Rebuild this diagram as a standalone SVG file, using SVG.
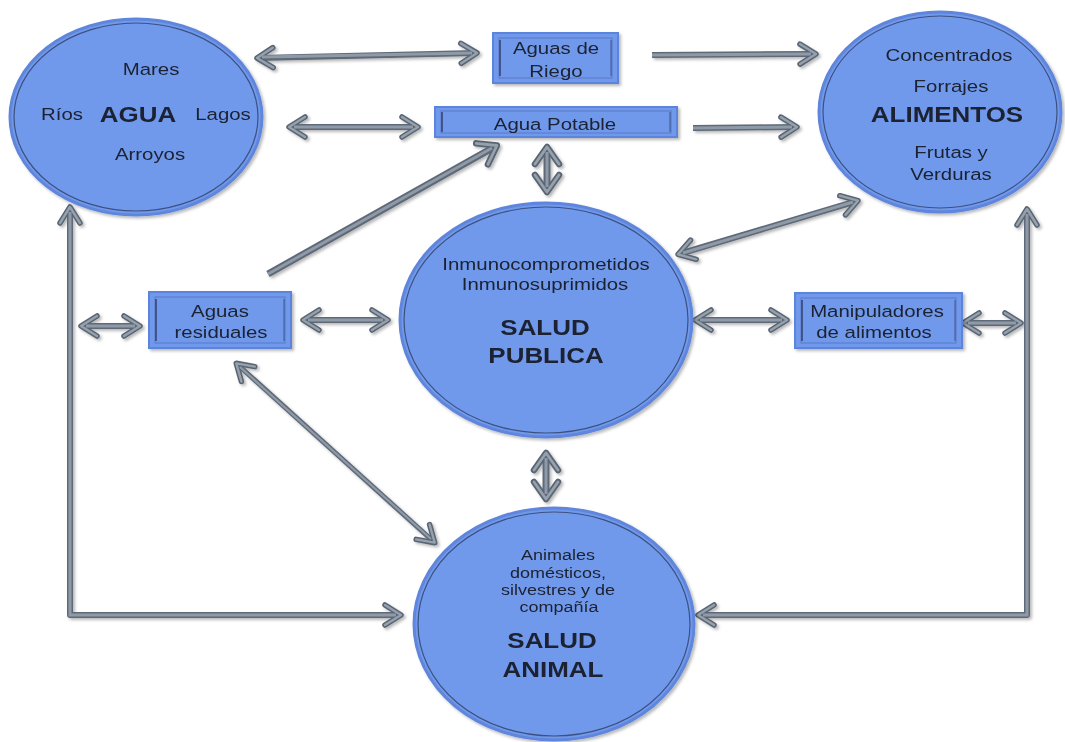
<svg xmlns="http://www.w3.org/2000/svg" width="1065" height="742" viewBox="0 0 1065 742">
<style>
.ell{fill:#7199eb;stroke:#5f86dc;stroke-width:3}
.ellin{fill:none;stroke:#33446e;stroke-width:1.2;opacity:.85}
.box{fill:#7199eb;stroke:#5c84dc;stroke-width:2}
.boxin{fill:none;stroke:#4a66b0;stroke-width:1;opacity:.6}
.bev{stroke:#2f416e;stroke-width:1.5}
.t{font-family:"Liberation Sans",Arial,sans-serif;font-size:17px;fill:#1b2130;text-anchor:middle}
.s{font-size:15px}
.b{font-family:"Liberation Sans",Arial,sans-serif;font-size:22px;font-weight:bold;fill:#1b2130;text-anchor:middle}
.c{fill:none;stroke:#5e6977;stroke-width:6;stroke-linejoin:round}
.ci{fill:none;stroke:#8f9aa8;stroke-width:3}
</style>
<defs>
<marker id="ah" viewBox="-20 -14 24 28" refX="0" refY="0" markerWidth="24" markerHeight="28" markerUnits="userSpaceOnUse" orient="auto-start-reverse" overflow="visible">
<path d="M-15,-10 L1,0 L-15,10" fill="none" stroke="#5a6573" stroke-width="5.5" stroke-linecap="round" stroke-linejoin="round"/>
<path d="M-15,-10 L1,0 L-15,10" fill="none" stroke="#96a1ae" stroke-width="2.4" stroke-linecap="round" stroke-linejoin="round"/>
</marker>
<marker id="ahb" viewBox="-20 -14 24 28" refX="0" refY="0" markerWidth="24" markerHeight="28" markerUnits="userSpaceOnUse" orient="auto-start-reverse" overflow="visible">
<path d="M-16,-12 L1,0 L-16,12" fill="none" stroke="#5a6573" stroke-width="6.5" stroke-linecap="round" stroke-linejoin="round"/>
<path d="M-16,-12 L1,0 L-16,12" fill="none" stroke="#96a1ae" stroke-width="2.8" stroke-linecap="round" stroke-linejoin="round"/>
</marker>
<filter id="sh" x="-10%" y="-10%" width="130%" height="130%">
<feDropShadow dx="2" dy="2" stdDeviation="1.5" flood-color="#000" flood-opacity="0.28"/>
</filter>
</defs>
<rect width="1065" height="742" fill="#ffffff"/>

<g id="connectors" filter="url(#sh)">
<path class="c" d="M258,58 L476,53" marker-start="url(#ah)" marker-end="url(#ah)"/>
<path class="ci" d="M262,57 L472,53"/>
<path class="c" d="M652,55 L815,54" marker-end="url(#ah)"/>
<path class="ci" d="M652,55 L811,54"/>
<path class="c" d="M290,127 L417,127" marker-start="url(#ah)" marker-end="url(#ah)"/>
<path class="ci" d="M294,127 L413,127"/>
<path class="c" d="M693,128 L796,127" marker-end="url(#ah)"/>
<path class="ci" d="M693,128 L792,127"/>
<path class="c" d="M547,148 L547,191" marker-start="url(#ahb)" marker-end="url(#ahb)" style="stroke-width:7"/>
<path class="ci" d="M547,152 L547,187"/>
<path class="c" d="M268,274 L496,146" marker-end="url(#ahb)" style="stroke-width:7"/>
<path class="ci" d="M268,274 L492,148"/>
<path class="c" d="M679,254 L857,201" marker-start="url(#ah)" marker-end="url(#ah)"/>
<path class="ci" d="M683,253 L853,202"/>
<path class="c" d="M82,326 L139,326" marker-start="url(#ah)" marker-end="url(#ah)"/>
<path class="ci" d="M86,326 L135,326"/>
<path class="c" d="M304,320 L387,320" marker-start="url(#ah)" marker-end="url(#ah)"/>
<path class="ci" d="M308,320 L383,320"/>
<path class="c" d="M696,320 L786,320" marker-start="url(#ah)" marker-end="url(#ah)"/>
<path class="ci" d="M700,320 L782,320"/>
<path class="c" d="M964,323 L1020,323" marker-start="url(#ah)" marker-end="url(#ah)"/>
<path class="ci" d="M968,323 L1016,323"/>
<path class="c" d="M546,454 L546,498" marker-start="url(#ahb)" marker-end="url(#ahb)" style="stroke-width:7"/>
<path class="ci" d="M546,458 L546,494"/>
<path class="c" d="M237,364 L434,542" marker-start="url(#ah)" marker-end="url(#ah)" style="stroke-width:5"/>
<path class="ci" d="M240,367 L431,539" style="stroke-width:2.2"/>
<path class="c" d="M70,208 L70,615 L400,615" marker-start="url(#ah)" marker-end="url(#ah)"/>
<path class="ci" d="M70,212 L70,615 L396,615"/>
<path class="c" d="M1027,210 L1027,615 L699,615" marker-start="url(#ah)" marker-end="url(#ah)"/>
<path class="ci" d="M1027,214 L1027,615 L703,615"/>
</g>

<g id="agua" filter="url(#sh)">
<ellipse class="ell" cx="136" cy="117" rx="126" ry="98"/>
<ellipse class="ellin" cx="136" cy="117" rx="122" ry="94"/>
<text class="t" transform="translate(151,75) scale(1.2,1)">Mares</text>
<text class="t" transform="translate(62,120) scale(1.2,1)">Ríos</text>
<text class="b" transform="translate(138,122) scale(1.18,1)">AGUA</text>
<text class="t" transform="translate(223,120) scale(1.2,1)">Lagos</text>
<text class="t" transform="translate(150,160) scale(1.2,1)">Arroyos</text>
</g>

<g id="alimentos" filter="url(#sh)">
<ellipse class="ell" cx="940" cy="112" rx="121" ry="100"/>
<ellipse class="ellin" cx="940" cy="112" rx="117" ry="96"/>
<text class="t" transform="translate(949,61) scale(1.2,1)">Concentrados</text>
<text class="t" transform="translate(951,92) scale(1.2,1)">Forrajes</text>
<text class="b" transform="translate(947,122) scale(1.18,1)">ALIMENTOS</text>
<text class="t" transform="translate(951,158) scale(1.2,1)">Frutas y</text>
<text class="t" transform="translate(951,180) scale(1.2,1)">Verduras</text>
</g>

<g id="riego" filter="url(#sh)">
<rect class="box" x="493" y="33" width="125" height="50"/>
<rect class="boxin" x="499" y="38" width="113" height="40"/>
<line class="bev" x1="500" y1="40" x2="500" y2="76"/>
<line class="bev" x1="611" y1="40" x2="611" y2="76" style="opacity:.5"/>
<text class="t" transform="translate(556,54) scale(1.2,1)">Aguas de</text>
<text class="t" transform="translate(556,77) scale(1.2,1)">Riego</text>
</g>

<g id="potable" filter="url(#sh)">
<rect class="box" x="435" y="107" width="242" height="30"/>
<rect class="boxin" x="441" y="111" width="230" height="22"/>
<line class="bev" x1="442" y1="112" x2="442" y2="132"/>
<line class="bev" x1="670" y1="112" x2="670" y2="132" style="opacity:.5"/>
<text class="t" transform="translate(555,130) scale(1.2,1)">Agua Potable</text>
</g>

<g id="residuales" filter="url(#sh)">
<rect class="box" x="149" y="292" width="142" height="56"/>
<rect class="boxin" x="155" y="297" width="130" height="46"/>
<line class="bev" x1="156" y1="299" x2="156" y2="341"/>
<line class="bev" x1="284" y1="299" x2="284" y2="341" style="opacity:.5"/>
<text class="t" transform="translate(220,317) scale(1.2,1)">Aguas</text>
<text class="t" transform="translate(221,338) scale(1.2,1)">residuales</text>
</g>

<g id="manipuladores" filter="url(#sh)">
<rect class="box" x="795" y="293" width="167" height="55"/>
<rect class="boxin" x="801" y="298" width="155" height="45"/>
<line class="bev" x1="802" y1="300" x2="802" y2="341"/>
<line class="bev" x1="955" y1="300" x2="955" y2="341" style="opacity:.5"/>
<text class="t" transform="translate(877,317) scale(1.2,1)">Manipuladores</text>
<text class="t" transform="translate(874,338) scale(1.2,1)">de alimentos</text>
</g>

<g id="salud-publica" filter="url(#sh)">
<ellipse class="ell" cx="546" cy="320" rx="146" ry="117"/>
<ellipse class="ellin" cx="546" cy="320" rx="142" ry="113"/>
<text class="t" transform="translate(546,270) scale(1.2,1)">Inmunocomprometidos</text>
<text class="t" transform="translate(545,290) scale(1.2,1)">Inmunosuprimidos</text>
<text class="b" transform="translate(545,335) scale(1.18,1)">SALUD</text>
<text class="b" transform="translate(546,363) scale(1.18,1)">PUBLICA</text>
</g>

<g id="salud-animal" filter="url(#sh)">
<ellipse class="ell" cx="554" cy="624" rx="140" ry="116"/>
<ellipse class="ellin" cx="554" cy="624" rx="136" ry="112"/>
<text class="t s" transform="translate(558,560) scale(1.2,1)">Animales</text>
<text class="t s" transform="translate(558,578) scale(1.2,1)">domésticos,</text>
<text class="t s" transform="translate(558,595) scale(1.2,1)">silvestres y de</text>
<text class="t s" transform="translate(559,612) scale(1.2,1)">compañía</text>
<text class="b" transform="translate(552,648) scale(1.18,1)">SALUD</text>
<text class="b" transform="translate(553,677) scale(1.18,1)">ANIMAL</text>
</g>
</svg>
